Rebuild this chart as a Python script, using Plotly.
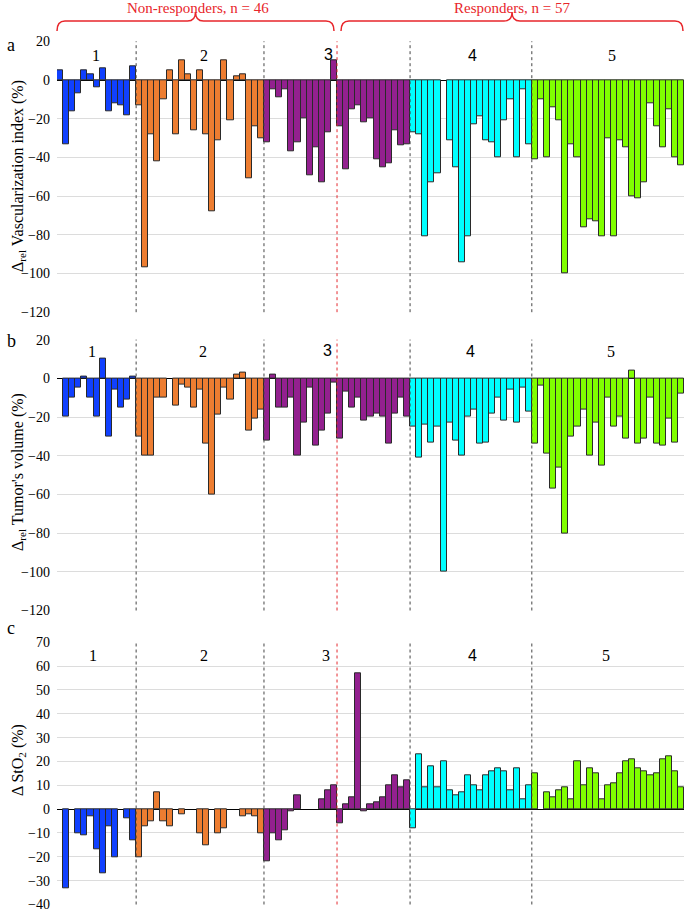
import plotly.graph_objects as go

# ---------------- data ----------------
group_names = ["1", "2", "3", "4", "5"]
group_sizes = [13, 21, 24, 20, 25]
group_colors = ["#1040FF", "#ED7D31", "#93208F", "#00FFFF", "#80FF00"]
n_nonresp = 46
n_resp = 57

vasc_index = [
    5, -33, -16, -7, 5, 3, -4, 6, -16, -12, -13, -18, 7,
    -13, -97, -28, -42, -10, 5, -28, 10, 3, -26, 5, -28, -68, -31, 10, -21, 2, 3, -51, -24, -30,
    -32, -5, -9, -5, -37, -32, -20, -49, -35, -53, -27, 10, -24, -46, -15, -13, -22, -20, -41, -45, -43, -26, -34, -33,
    -27, -28, -81, -53, -48, None, -31, -45, -94, -81, -23, -19, -31, -32, -40, -21, -10, -40, -5, -33,
    -41, -10, -40, -14, -21, -100, -33, -40, -76, -72, -73, -81, -30, -81, -31, -35, -60, -61, -53, -12, -24, -35, -15, -40, -44,
]

tumor_volume = [
    None, -20, -10, -5, 1, -10, -20, 10, -30, -6, -15, -11, 1,
    -30, -40, -40, -10, -10, None, -14, -3, -5, -15, -6, -34, -60, -19, -5, -11, 2, 3, -27, -21, -16,
    -32, 2, -15, -15, -10, -40, -23, -5, -35, -27, -18, -2, -31, -7, -15, -10, -22, -20, -18, -20, -34, -18, -10, -20,
    -25, -41, -24, -33, -25, -100, -23, -32, -40, -20, -16, -34, -33, -18, -10, -22, -6, -23, -5, -17,
    -34, -4, -39, -57, -46, -80, -30, -25, -16, -40, -23, -45, -10, -25, -20, -31, 4, -34, -31, -10, -34, -35, -21, -33, -8,
]

sto2 = [
    None, -33, None, -10, -11, -3, -17, -27, -7, -20, None, -4, -13,
    -20, -7, -5, 7, -5, -7, None, -2, None, None, -10, -15, None, -10, -8, None, None, -3, -2, -3, -10,
    -22, -10, -13, -9, -1, 6, None, None, None, 4, 8, 10, -6, 2, 5, 57, -1, 2, 3, 5, 10, 14, 9, 12,
    -8, 23, 9, 18, 9, 20, 8, 6, 7, 14, 10, 8, 14, 16, 17, 16, 8, 17, 4, 10,
    15, None, 7, 5, 8, 9, 4, 20, 10, 17, 15, 4, 10, 11, 15, 20, 21, 17, 16, 14, 15, 21, 22, 16, 9,
]

ticks_ab = [20, 0, -20, -40, -60, -80, -100, -120]
ticks_c = [70, 60, 50, 40, 30, 20, 10, 0, -10, -20, -30, -40]

# ---------------- figure ----------------
W, H = 685, 911
def px(x):
    return x / W
def py(y):
    return 1 - y / H

n_total = sum(group_sizes)
xs = list(range(n_total))
colors = []
for c, s in zip(group_colors, group_sizes):
    colors += [c] * s

SERIF = "Liberation Serif, Times New Roman, serif"
SANS = "Liberation Sans, Arial, sans-serif"

fig = go.Figure()
panels = [
    (vasc_index, "x", "y"),
    (tumor_volume, "x2", "y2"),
    (sto2, "x3", "y3"),
]
for vals, xa, ya in panels:
    fig.add_trace(go.Bar(
        x=xs, y=vals, xaxis=xa, yaxis=ya,
        marker=dict(color=colors, line=dict(color="#2a2a2a", width=1)),
        showlegend=False, hoverinfo="x+y",
    ))

x_dom = [px(57), px(684)]
domains = [
    [py(312.2), py(41.3)],
    [py(610.5), py(339.6)],
    [py(904.5), py(642.3)],
]
ranges = [[-120, 20], [-120, 20], [-40, 70]]
tickvals = [ticks_ab, ticks_ab, ticks_c]

layout = dict(
    width=W, height=H,
    margin=dict(l=0, r=0, t=0, b=0, autoexpand=False),
    paper_bgcolor="white", plot_bgcolor="white",
    bargap=0,
    font=dict(family=SERIF, color="black", size=13),
)
for i in range(3):
    sx = "" if i == 0 else str(i + 1)
    layout["xaxis" + sx] = dict(
        domain=x_dom, range=[-0.5, n_total - 0.5], showticklabels=False,
        showgrid=False, zeroline=False, showline=False, ticks="",
        anchor="y" + sx, automargin=False,
    )
    layout["yaxis" + sx] = dict(
        domain=domains[i], range=ranges[i], tickvals=tickvals[i],
        showgrid=True, gridcolor="#DCDCDC", gridwidth=1,
        zeroline=True, zerolinecolor="black", zerolinewidth=1,
        showline=False, ticks="", ticklabelstandoff=6,
        ticklabeloverflow="allow",
        tickfont=dict(family=SERIF, size=14, color="black"),
        anchor="x" + sx, automargin=False,
    )
fig.update_layout(**layout)

# group boundaries
bounds = []
acc = 0
for s in group_sizes[:-1]:
    acc += s
    bounds.append(acc - 0.5)
shapes = []
for i in range(3):
    sx = "" if i == 0 else str(i + 1)
    for b in bounds:
        shapes.append(dict(type="line", xref="x" + sx, yref="y" + sx + " domain",
                           x0=b, x1=b, y0=0, y1=1,
                           line=dict(color="#444444", width=1, dash="dot")))
    shapes.append(dict(type="line", xref="x" + sx, yref="y" + sx + " domain",
                       x0=n_nonresp - 0.5, x1=n_nonresp - 0.5, y0=0, y1=1,
                       line=dict(color="#E52A2F", width=1, dash="dot")))

# braces on top (pixel layout)
def brace(x0, x1, ytip=12, ymid=21, yend=31, r=8):
    xm = (x0 + x1) / 2
    pts = [
        ("M", (x0, yend)), ("Q", (x0, ymid), (x0 + r, ymid)),
        ("L", (xm - r, ymid)), ("Q", (xm, ymid), (xm, ytip)),
        ("Q", (xm, ymid), (xm + r, ymid)), ("L", (x1 - r, ymid)),
        ("Q", (x1, ymid), (x1, yend)),
    ]
    d = ""
    for p in pts:
        cmd = p[0]
        coords = " ".join(f"{px(a):.5f},{py(b):.5f}" for a, b in p[1:])
        d += f"{cmd} {coords} "
    return dict(type="path", xref="paper", yref="paper", path=d.strip(),
                line=dict(color="#E8262B", width=1.5))

shapes.append(brace(57, 334))
shapes.append(brace(341, 683))
fig.update_layout(shapes=shapes)

ann = []
ann.append(dict(text=f"Non-responders, n = {n_nonresp}", x=px(198), y=py(8),
                xref="paper", yref="paper", showarrow=False,
                font=dict(family=SERIF, size=15, color="#E8262B"),
                xanchor="center", yanchor="middle"))
ann.append(dict(text=f"Responders, n = {n_resp}", x=px(512), y=py(8),
                xref="paper", yref="paper", showarrow=False,
                font=dict(family=SERIF, size=15, color="#E8262B"),
                xanchor="center", yanchor="middle"))

# group numbers per panel (pixel positions)
label_pos = [
    [(96, 56), (204, 56), (328, 54), (472, 55), (612, 56)],
    [(92, 351), (203, 351), (327, 350), (470, 351), (611, 351)],
    [(93, 655), (204, 655), (326, 655), (472, 655), (606, 655)],
]
for r_i, row in enumerate(label_pos):
    for name, (lx, ly) in zip(group_names, row):
        fam = SANS if (name == "4" or (name == "3" and r_i < 2)) else SERIF
        ann.append(dict(text=name, x=px(lx), y=py(ly), xref="paper", yref="paper",
                        showarrow=False, xanchor="center", yanchor="middle",
                        font=dict(family=fam, size=16, color="black")))

for letter, ly in [("a", 45), ("b", 341), ("c", 628)]:
    ann.append(dict(text=letter, x=px(11), y=py(ly), xref="paper", yref="paper",
                    showarrow=False, xanchor="center", yanchor="middle",
                    font=dict(family=SERIF, size=18, color="black")))

titles = [
    ("Δ<sub>rel</sub> Vascularization index (%)", 176),
    ("Δ<sub>rel</sub> Tumor's volume (%)", 472),
    ("Δ StO<sub>2</sub> (%)", 760),
]
for t, ty in titles:
    ann.append(dict(text=t, x=px(18), y=py(ty), xref="paper", yref="paper",
                    showarrow=False, textangle=-90, xanchor="center", yanchor="middle",
                    font=dict(family=SERIF, size=16, color="black")))

fig.update_layout(annotations=ann)
fig.write_html(
    "out.html",
    config={"displayModeBar": False},
    post_script="document.body.style.margin='0px';document.body.style.padding='0px';",
)
